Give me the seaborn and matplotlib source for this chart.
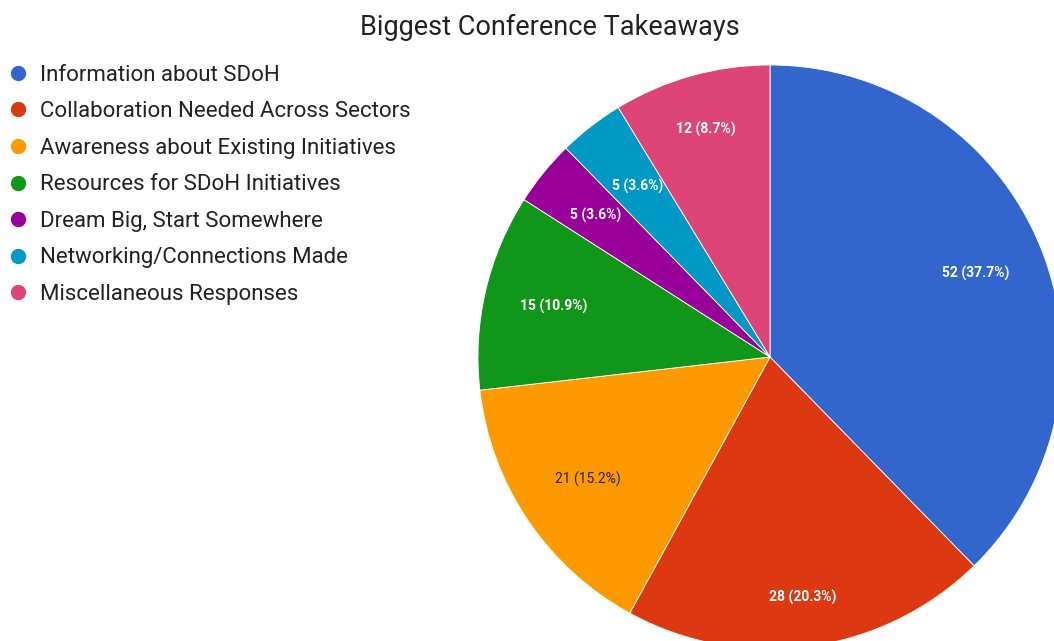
import numpy as np
import seaborn as sns
import matplotlib.pyplot as plt
from matplotlib.lines import Line2D

categories = ['Information about SDoH', 'Collaboration Needed Across Sectors',
              'Awareness about Existing Initiatives', 'Resources for SDoH Initiatives',
              'Dream Big, Start Somewhere', 'Networking/Connections Made',
              'Miscellaneous Responses']
counts = [52, 28, 21, 15, 5, 5, 12]

colors = sns.color_palette(['#3366cc', '#dc3912', '#ff9900', '#109618',
                            '#990099', '#0099c6', '#dd4477'])
label_colors = ['white', 'white', '#222222', 'white', 'white', 'white', 'white']
label_dist = [0.76, 0.83, 0.75, 0.76, 0.77, 0.74, 0.81]

sns.set_theme(style='white')
plt.rcParams['font.family'] = ['Roboto', 'DejaVu Sans']

W, H = 1054, 641
fig = plt.figure(figsize=(W / 100, H / 100), dpi=100)
ax = fig.add_axes([0, 0, 1, 1])

cx, cy, r = 770, H - 357, 292
wedges, _ = ax.pie(counts, colors=colors, startangle=90, counterclock=False,
                   center=(cx, cy), radius=r,
                   wedgeprops=dict(linewidth=0.6, edgecolor='white'))
ax.set_xlim(0, W)
ax.set_ylim(0, H)
ax.axis('off')

total = sum(counts)
for w, n, c, d in zip(wedges, counts, label_colors, label_dist):
    ang = np.deg2rad((w.theta1 + w.theta2) / 2)
    x = cx + d * r * np.cos(ang)
    y = cy + d * r * np.sin(ang)
    ax.text(x, y, '{} ({:.1f}%)'.format(n, 100 * n / total), ha='center', va='center',
            color=c, fontsize=10, fontweight='bold' if c == 'white' else 'normal')

fig.text(550 / W, 1 - 27 / H, 'Biggest Conference Takeaways', ha='center', va='center',
         fontsize=19.5, color='#222222')

handles = [Line2D([], [], marker='o', linestyle='', markersize=10, color=col) for col in colors]
ax.legend(handles, categories, loc='upper left', bbox_to_anchor=(0.0, 1 - 58 / H),
          frameon=False, fontsize=16, labelspacing=0.70, handlelength=1.0,
          handletextpad=0.5, borderaxespad=0, borderpad=0.3, labelcolor='#222222')

fig.savefig('out.png', dpi=100)
